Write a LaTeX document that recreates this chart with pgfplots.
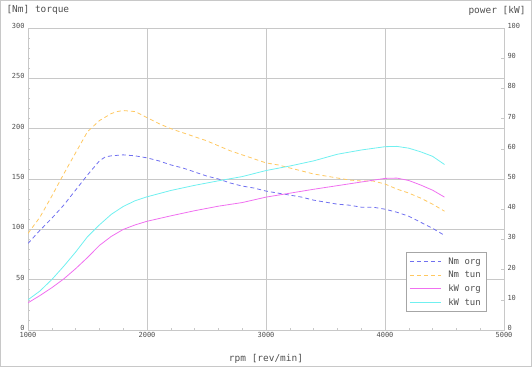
\documentclass[border=0pt]{standalone}
\usepackage{fontspec}
\setmainfont{DejaVu Sans Mono}
\usepackage{pgfplots}
\pgfplotsset{compat=1.18}
\definecolor{nmorg}{HTML}{7070F0}
\definecolor{nmtun}{HTML}{FFC860}
\definecolor{kworg}{HTML}{F070F0}
\definecolor{kwtun}{HTML}{70F0F0}
\definecolor{gridc}{HTML}{C8C8C8}
\definecolor{txt}{HTML}{505050}
\pgfplotsset{
  base/.style={
    scale only axis, width=476bp, height=302bp,
    at={(28bp,37bp)}, anchor=south west,
    xmin=1000, xmax=5000,
    tick align=inside,
    major tick length=3bp, minor tick length=2bp,
    tick style={gridc, line width=0.6bp},
    axis line style={gridc, line width=0.8bp},
    ticklabel style={font=\fontsize{7}{7}\selectfont, text=txt},
    /pgf/number format/assume math mode=true,
    /pgf/number format/set thousands separator={},
    scaled ticks=false,
  }
}
\begin{document}
\begin{tikzpicture}[x=1bp,y=1bp]
\draw[gridc, line width=1bp] (0.5,0.5) rectangle (531.5,366.5);
\path[use as bounding box] (0,0) rectangle (532,367);
\begin{axis}[base,
  ymin=0, ymax=300,
  xtick={1000,2000,...,5000}, ytick={0,50,...,300},
  xtick pos=bottom, ytick pos=left,
  minor x tick num=4, minor y tick num=4,
  grid=major, major grid style={gridc, line width=0.7bp},
  y tick label style={yshift=2bp},
  x tick label style={yshift=1bp},
]
\addplot[nmorg, line width=0.8bp, dash pattern=on 4bp off 3bp] coordinates {
(1000,86) (1100,99) (1200,111) (1300,124) (1400,139) (1500,154) (1600,168)
(1650,172) (1700,173) (1800,174) (1900,173) (2000,171) (2100,168) (2200,164)
(2300,161) (2400,157) (2500,153) (2600,150) (2700,146) (2800,143) (2900,141)
(3000,138) (3100,136) (3200,134) (3300,132) (3400,129) (3500,127) (3600,125)
(3700,124) (3800,122) (3900,122) (4000,120) (4100,117) (4200,113) (4300,107)
(4400,101) (4500,94)};
\addplot[nmtun, line width=0.8bp, dash pattern=on 4bp off 3bp] coordinates {
(1000,96) (1100,112) (1200,133) (1300,155) (1400,176) (1500,197) (1600,208)
(1700,215) (1750,217) (1800,218) (1900,217) (2000,211) (2100,205) (2200,200)
(2300,196) (2400,192) (2500,188) (2600,183) (2700,178) (2800,174) (2900,170)
(3000,166) (3100,164) (3200,161) (3300,158) (3400,155) (3500,153) (3600,151)
(3700,149) (3800,148) (3900,148) (4000,145) (4100,140) (4200,136) (4300,131)
(4400,125) (4500,118)};
\end{axis}
\begin{axis}[base,
  ymin=0, ymax=100,
  axis x line=none, axis y line*=right,
  ytick={0,10,...,100},
  y tick label style={yshift=2bp},
  legend style={at={(0.962,0.06)}, anchor=south east, draw=gray!70,
    font=\fontsize{9}{11}\selectfont, text=txt, row sep=1.5bp,
    inner xsep=3bp, inner ysep=3bp,
    /tikz/every odd column/.append style={column sep=5bp}},
  legend cell align=left,
  legend image code/.code={\draw[#1] (0bp,0bp) -- (31bp,0bp);},
]
\addlegendimage{nmorg, line width=0.8bp, dash pattern=on 4bp off 3bp}
\addlegendentry{Nm org}
\addlegendimage{nmtun, line width=0.8bp, dash pattern=on 4bp off 3bp}
\addlegendentry{Nm tun}
\addplot[kworg, line width=0.8bp] coordinates {
(1000,9.0) (1100,11.4) (1200,14.0) (1300,16.9) (1400,20.3) (1500,24.0)
(1600,28.0) (1700,31.0) (1800,33.3) (1900,34.8) (2000,36.0) (2200,37.8)
(2400,39.5) (2600,41.0) (2800,42.2) (3000,44.0) (3200,45.3) (3400,46.6)
(3600,47.8) (3800,49.0) (4000,50.2) (4100,50.3) (4200,49.5) (4300,48.0)
(4400,46.3) (4500,44.0)};
\addlegendentry{kW org}
\addplot[kwtun, line width=0.8bp] coordinates {
(1000,10.0) (1100,12.9) (1200,16.7) (1300,21.1) (1400,25.8) (1500,30.9)
(1600,34.8) (1700,38.3) (1800,40.9) (1900,42.8) (2000,44.1) (2200,46.2)
(2400,47.9) (2600,49.4) (2800,50.8) (3000,52.8) (3200,54.3) (3400,56.0)
(3600,58.2) (3800,59.6) (4000,60.7) (4100,60.8) (4200,60.2) (4300,59.0)
(4400,57.5) (4500,54.8)};
\addlegendentry{kW tun}
\end{axis}
\node[anchor=west, font=\fontsize{9.5}{10}\selectfont, text=txt] at (3,357) {[Nm] torque};
\node[anchor=east, font=\fontsize{9.5}{10}\selectfont, text=txt] at (529,356) {power [kW]};
\node[font=\fontsize{9.5}{10}\selectfont, text=txt] at (266,8) {rpm [rev/min]};
\end{tikzpicture}
\end{document}
